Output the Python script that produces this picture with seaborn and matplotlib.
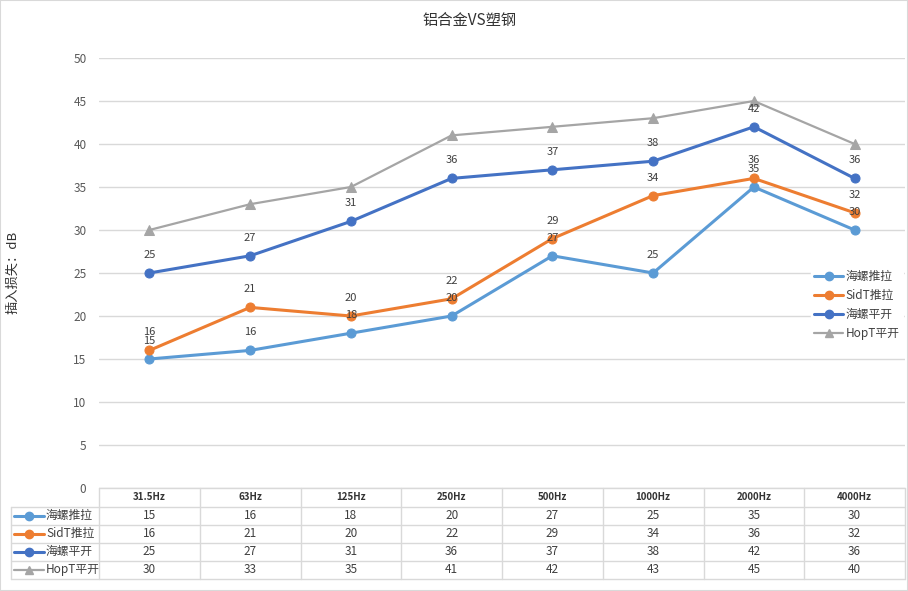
import matplotlib
matplotlib.use("Agg")
import matplotlib.pyplot as plt
import matplotlib.transforms as mtransforms
from matplotlib.lines import Line2D
from matplotlib.patches import Rectangle
import seaborn as sns
import numpy as np
import pandas as pd

categories = ["31.5Hz", "63Hz", "125Hz", "250Hz", "500Hz", "1000Hz", "2000Hz", "4000Hz"]
series_names = ["海螺推拉", "SidT推拉", "海螺平开", "HopT平开"]
hailuo_tuila = [15, 16, 18, 20, 27, 25, 35, 30]
sidt_tuila = [16, 21, 20, 22, 29, 34, 36, 32]
hailuo_pingkai = [25, 27, 31, 36, 37, 38, 42, 36]
hopt_pingkai = [30, 33, 35, 41, 42, 43, 45, 40]
series_values = [hailuo_tuila, sidt_tuila, hailuo_pingkai, hopt_pingkai]
show_labels = [True, True, True, False]

colors = ["#5B9BD5", "#ED7D31", "#4472C4", "#A5A5A5"]
markers = ["o", "o", "o", "^"]
lws = [2.2, 2.2, 2.2, 1.6]

sns.set_theme(style="white")
plt.rcParams['font.family'] = ['Noto Sans CJK SC', 'DejaVu Sans']

W, H = 908, 591
fig = plt.figure(figsize=(W / 100, H / 100), dpi=100)
fig.patch.set_facecolor("white")

def fx(px):
    return px / W

def fy(py):
    return 1 - py / H

ax = fig.add_axes([fx(99), fy(488), fx(905) - fx(99), fy(58) - fy(488)])
ax.set_xlim(-0.5, len(categories) - 0.5)
ax.set_ylim(0, 50)
ax.set_yticks(np.arange(0, 51, 5))
ax.set_xticks([])
ax.yaxis.grid(True, color="#D9D9D9", linewidth=1)
for s in ax.spines.values():
    s.set_visible(False)
ax.tick_params(axis="y", length=0, labelsize=8.5, labelcolor="#595959", pad=9)

xs = np.arange(len(categories))
for name, vals, c, m, lw, lab in zip(series_names, series_values, colors, markers, lws, show_labels):
    df = pd.DataFrame({"x": xs, "y": vals})
    sns.lineplot(data=df, x="x", y="y", ax=ax, color=c, marker=m, markersize=6.5,
                 markeredgecolor=c, linewidth=lw, sort=False, legend=False, zorder=3)
    if lab:
        for xi, v in zip(xs, vals):
            ax.annotate(str(v), (xi, v), xytext=(0, 13), textcoords="offset points",
                        ha="center", va="center", fontsize=8, color="#404040", zorder=4)
ax.set_xlabel("")
ax.set_ylabel("")

# Title and y label
fig.text(fx(470), fy(20), "铝合金VS塑钢", ha="center", va="center", fontsize=11, color="#333333")
fig.text(fx(13), fy(272), "插入损失：dB", ha="center", va="center", rotation=90, fontsize=9.5, color="#333333")

# Legend
handles = [Line2D([0], [0], color=c, marker=m, markersize=6, linewidth=lw)
           for c, m, lw in zip(colors, markers, lws)]
leg = fig.legend(handles, series_names, loc="center left",
                 bbox_to_anchor=(fx(805), fy(305)), frameon=True, fontsize=8.5,
                 handlelength=2.4, handletextpad=0.25, labelspacing=0.5, borderpad=0.3)
leg.get_frame().set_facecolor("white")
leg.get_frame().set_edgecolor("white")
leg.get_frame().set_alpha(1)
for t in leg.get_texts():
    t.set_color("#404040")

# Data table below the plot
grid_c = "#D9D9D9"
row_y = [488, 506.5, 524.5, 542.5, 560.5, 578.5]
col_x = [99 + i * (806 / 8) for i in range(9)]
for i, y in enumerate(row_y):
    x0 = 99 if i == 0 else 10.5
    fig.add_artist(Line2D([fx(x0), fx(905)], [fy(y), fy(y)], color=grid_c, linewidth=1))
for x in col_x:
    fig.add_artist(Line2D([fx(x), fx(x)], [fy(488), fy(578.5)], color=grid_c, linewidth=1))
fig.add_artist(Line2D([fx(10.5), fx(10.5)], [fy(506.5), fy(578.5)], color=grid_c, linewidth=1))

trans = mtransforms.blended_transform_factory(ax.transData, fig.transFigure)
for xi, cat in zip(xs, categories):
    fig.text(xi, fy(497), cat, transform=trans, ha="center", va="center",
             fontsize=7, fontweight="bold", color="#333333")
for r, (name, vals, c, m, lw) in enumerate(zip(series_names, series_values, colors, markers, lws)):
    yc = fy((row_y[r + 1] + row_y[r + 2]) / 2)
    for xi, v in zip(xs, vals):
        fig.text(xi, yc, str(v), transform=trans, ha="center", va="center",
                 fontsize=8.5, color="#404040")
    fig.add_artist(Line2D([fx(14), fx(44)], [yc, yc], color=c, linewidth=lw))
    fig.add_artist(Line2D([fx(29)], [yc], color=c, marker=m, markersize=6, linewidth=0))
    fig.text(fx(46), yc, name, ha="left", va="center", fontsize=8.5, color="#404040")

# Outer border
fig.add_artist(Rectangle((0, 0), 1, 1, transform=fig.transFigure, fill=False,
                         edgecolor="#D9D9D9", linewidth=1.5))

fig.savefig("out.png", dpi=100)
